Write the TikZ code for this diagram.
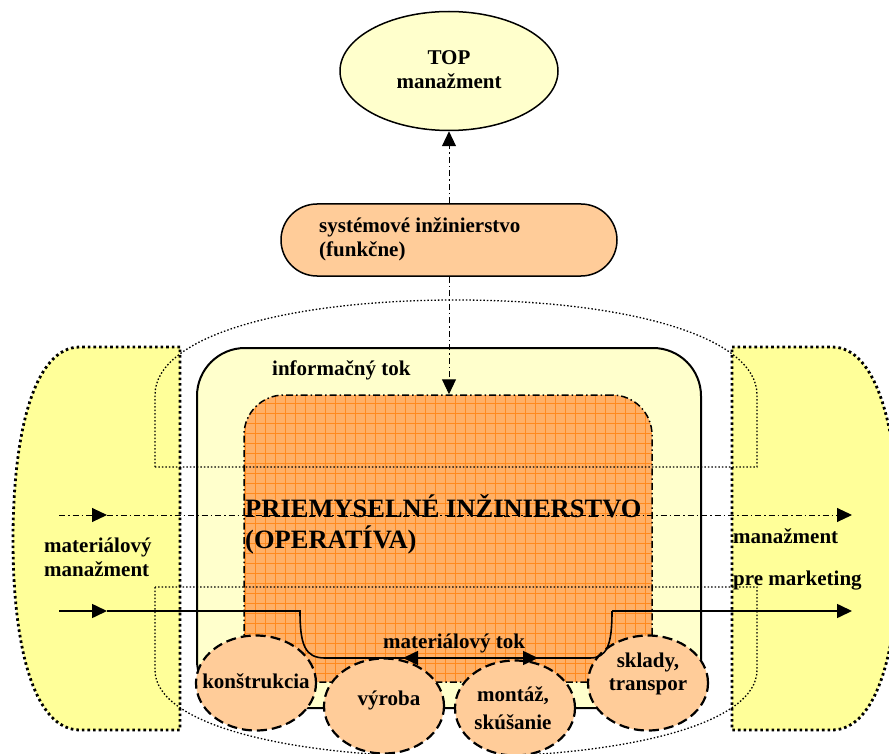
\documentclass[tikz,border=0pt]{standalone}
\usepackage{fontspec}
\setmainfont{Liberation Serif}
\usetikzlibrary{arrows.meta,shapes.geometric,calc}

\definecolor{paleyellow}{HTML}{FFFFCC}
\definecolor{sideyellow}{HTML}{FFFF99}
\definecolor{peach}{HTML}{FFCC99}
\definecolor{gridorange}{HTML}{FF8A1E}
\definecolor{orangefill}{HTML}{FFB066}

\tikzset{
  lbl/.style={font=\bfseries\fontsize{21}{25}\selectfont, inner sep=0pt},
  biglbl/.style={font=\bfseries\fontsize{26.5}{31}\selectfont, inner sep=0pt},
  infoline/.style={line width=1pt, dash pattern=on 6pt off 3pt on 1.5pt off 3pt},
  flowline/.style={line width=1.6pt},
  tipend/.style={-{Triangle[length=15pt,width=14pt]}},
  sideshape/.style={fill=sideyellow, draw, line width=2.8pt,
    dash pattern=on 2.6pt off 3pt},
  outline/.style={draw, line width=1.3pt, dash pattern=on 1.5pt off 2pt},
  station/.style={ellipse, draw, fill=peach, line width=2.2pt,
    dash pattern=on 10pt off 5pt, minimum width=120pt, minimum height=95pt,
    inner sep=0pt},
}

\begin{document}
\begin{tikzpicture}[x=1pt,y=-1pt]
\useasboundingbox (0,0) rectangle (889,754);
\clip (0,0) rectangle (889,754);

% side areas: material management (left) and marketing (right)
\path[sideshape] (180,347) -- (80,347) .. controls (35,347) and (13,430) .. (13,540)
  .. controls (13,650) and (35,730) .. (80,730) -- (180,730) -- cycle;
\path[sideshape] (732,347) -- (832,347) .. controls (877,347) and (899,430) .. (899,540)
  .. controls (899,650) and (877,730) .. (832,730) -- (732,730) -- cycle;

% information flow frame
\node[draw, line width=2pt, fill=paleyellow, rounded corners=48pt,
  minimum width=504pt, minimum height=360pt, inner sep=0pt] (info) at (449,528) {};

% industrial engineering block with grid
\node[draw, fill=orangefill, line width=1.5pt,
  dash pattern=on 7pt off 3pt on 1.5pt off 3pt, rounded corners=40pt,
  minimum width=408pt, minimum height=287pt, inner sep=0pt,
  path picture={
    \foreach \k in {0,...,40}
      \draw[gridorange, line width=0.7pt, solid]
        ([xshift=\k*10pt+1pt]path picture bounding box.north west) --
        ([xshift=\k*10pt+1pt]path picture bounding box.south west);
    \foreach \k in {0,...,28}
      \draw[gridorange, line width=0.7pt, solid]
        ([yshift=-\k*10pt-8pt]path picture bounding box.north west) --
        ([yshift=-\k*10pt-8pt]path picture bounding box.north east);
  }] (pi) at (448,538.5) {};

% thin dotted bands
\draw[outline] (155,467) -- (155,395) .. controls (155,335) and (290,300) .. (456,300)
  .. controls (622,300) and (757,335) .. (757,395) -- (757,467) -- cycle;
\draw[outline] (155,587) -- (155,670) .. controls (155,725) and (290,757) .. (456,757)
  .. controls (622,757) and (757,725) .. (757,670) -- (757,587) -- cycle;

% stations
\node[station] (kon) at (256,683) {};
\node[station] (vyr) at (384,706) {};
\node[station] (mon) at (515,708) {};
\node[station] (skl) at (648,683) {};

% management levels
\node[ellipse, draw, line width=1.5pt, fill=paleyellow,
  minimum width=218pt, minimum height=119pt] (top) at (449,71) {};
\node[draw, line width=1.5pt, fill=peach, rounded corners=36pt,
  minimum width=336pt, minimum height=72pt] (sys) at (449,240) {};

% vertical information links
\draw[infoline, tipend] (sys.north) -- (top.south);
\draw[infoline, tipend] (sys.south) -- (sys.south |- pi.north);

% horizontal information flow
\coordinate (dL) at (59,515);
\coordinate (dA) at (107,515);
\coordinate (dR) at (852,515);
\draw[infoline, tipend] (dL) -- (dA);
\draw[infoline, tipend] (dA) -- (dR);

% material flow
\coordinate (fL) at (59,611);
\coordinate (fA) at (107,611);
\coordinate (f1) at (300,611);
\coordinate (f2) at (325,658);
\coordinate (mA) at (403,658);
\coordinate (mA2) at (420,658);
\coordinate (mB) at (538,658);
\coordinate (f3) at (590,658);
\coordinate (f4) at (612,611);
\coordinate (fR) at (852,611);
\draw[flowline, tipend] (fL) -- (fA);
\draw[flowline] (fA) -- (f1) .. controls (300,645) and (305,658) .. (f2) -- (f3)
  .. controls (607,658) and (612,645) .. (f4);
\draw[flowline, tipend] (f4) -- (fR);
\draw[flowline, tipend] (mA2) -- (mA);
\draw[flowline, tipend] (f2) -- (mB);

% labels
\node[lbl, anchor=base] (topT1) at (449,65) {TOP};
\node[lbl, anchor=base] (topT2) at (449,89) {manažment};
\node[lbl, anchor=base west] (sysT1) at (319,233) {systémové inžinierstvo};
\node[lbl, anchor=base west] (sysT2) at (319,257) {(funkčne)};
\node[lbl, anchor=base west] (infoT) at (272,375) {informačný tok};
\node[biglbl, anchor=base west] (piT1) at (245,517) {PRIEMYSELNÉ INŽINIERSTVO};
\node[biglbl, anchor=base west] (piT2) at (245,548) {(OPERATÍVA)};
\node[lbl, anchor=base west] (mmT1) at (44,552) {materiálový};
\node[lbl, anchor=base west] (mmT2) at (44,576) {manažment};
\node[lbl, anchor=base west] (mkT1) at (733,543) {manažment};
\node[lbl, anchor=base west] (mkT2) at (733,585) {pre marketing};
\node[lbl, anchor=base west] (mtT) at (383,648) {materiálový tok};
\node[lbl, anchor=base] (konT) at (256,688) {konštrukcia};
\node[lbl, anchor=base] (vyrT) at (389,705) {výroba};
\node[lbl, anchor=base] (monT1) at (513,701) {montáž,};
\node[lbl, anchor=base] (monT2) at (513,729) {skúšanie};
\node[lbl, anchor=base] (sklT1) at (648,667) {sklady,};
\node[lbl, anchor=base] (sklT2) at (648,690) {transpor};
\end{tikzpicture}
\end{document}
